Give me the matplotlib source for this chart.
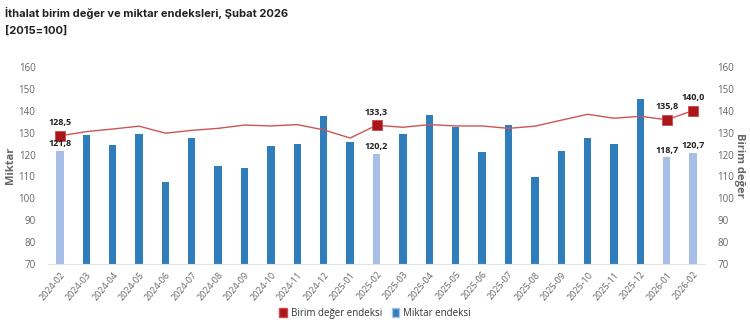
import matplotlib
matplotlib.use("Agg")
import matplotlib.pyplot as plt
from matplotlib.patches import Patch

months = [
    "2024-02", "2024-03", "2024-04", "2024-05", "2024-06", "2024-07", "2024-08",
    "2024-09", "2024-10", "2024-11", "2024-12", "2025-01", "2025-02", "2025-03",
    "2025-04", "2025-05", "2025-06", "2025-07", "2025-08", "2025-09", "2025-10",
    "2025-11", "2025-12", "2026-01", "2026-02",
]
miktar = [
    121.8, 128.8, 124.2, 129.2, 107.4, 127.4, 114.6, 113.7, 123.9, 124.8, 137.6,
    125.9, 120.2, 129.4, 138.0, 132.7, 121.0, 133.3, 109.6, 121.5, 127.5, 125.0,
    145.4, 118.7, 120.7,
]
birim = [
    128.5, 130.4, 131.6, 132.9, 129.7, 131.0, 131.9, 133.4, 133.0, 133.6, 131.2,
    127.5, 133.3, 132.4, 133.6, 133.0, 133.0, 131.9, 132.9, 135.6, 138.3, 136.5,
    137.4, 135.8, 140.0,
]
highlight = ["2024-02", "2025-02", "2026-01", "2026-02"]

dark_blue = "#2f7dbb"
light_blue = "#a7bfe6"
line_red = "#cc5555"
marker_red = "#a8171c"
grey = "#666666"

plt.rcParams["font.family"] = ["Open Sans", "DejaVu Sans"]

fig = plt.figure(figsize=(7.5, 3.33), dpi=100)
ax = fig.add_axes([0.064, 0.206, 0.876, 0.594])
ax2 = ax.twinx()

x = list(range(len(months)))
colors = [light_blue if m in highlight else dark_blue for m in months]
ax.bar(x, [v - 70 for v in miktar], bottom=70, width=0.28, color=colors, zorder=2)

ax2.plot(x, birim, color=line_red, lw=1.0, zorder=3)
hx = [i for i, m in enumerate(months) if m in highlight]
ax2.plot(hx, [birim[i] for i in hx], ls="none", marker="s", ms=6.5,
         color=marker_red, mec="#d04848", mew=0.6, zorder=4)

# both axes share the 70-160 scale, so put all labels on the top axes
for i in hx:
    ax2.annotate(f"{miktar[i]:.1f}".replace(".", ","), (i, miktar[i]),
                 xytext=(0, 2), textcoords="offset points", ha="center", va="bottom",
                 fontsize=6.5, fontweight="bold", color="#222222", zorder=5)
    ax2.annotate(f"{birim[i]:.1f}".replace(".", ","), (i, birim[i]),
                 xytext=(0, 6), textcoords="offset points", ha="center", va="bottom",
                 fontsize=6.5, fontweight="bold", color="#222222", zorder=5)

for a in (ax, ax2):
    a.set_ylim(70, 160)
    a.set_yticks(range(70, 161, 10))
    a.tick_params(axis="y", length=0, labelsize=7, labelcolor=grey, pad=9)
    for s in a.spines.values():
        s.set_visible(False)
ax.spines["bottom"].set_visible(True)
ax.spines["bottom"].set_color("#e3e3e3")
ax.set_xlim(-0.45, 24.45)
ax.set_xticks(x)
ax.set_xticklabels(months, rotation=50, ha="right", rotation_mode="anchor",
                   fontsize=6.5, color=grey)
ax.tick_params(axis="x", length=0, pad=4)
ax.set_ylabel("Miktar", fontsize=8, fontweight="bold", color=grey, labelpad=2)
ax2.set_ylabel("Birim değer", fontsize=8, fontweight="bold", color=grey,
               rotation=270, labelpad=8)

fig.text(0.007, 0.962, "İthalat birim değer ve miktar endeksleri, Şubat 2026",
         fontsize=8, fontweight="bold", color="#222222", family=["Inter", "DejaVu Sans"],
         va="center")
fig.text(0.007, 0.907, "[2015=100]", fontsize=8, fontweight="bold",
         color="#222222", family=["Inter", "DejaVu Sans"], va="center")

handles = [Patch(facecolor=marker_red, edgecolor="#d04848"),
           Patch(facecolor=dark_blue, edgecolor=light_blue)]
fig.legend(handles, ["Birim değer endeksi", "Miktar endeksi"], loc="center",
           bbox_to_anchor=(0.5, 0.06), ncol=2, frameon=False, fontsize=7,
           handlelength=0.8, handleheight=1.1, handletextpad=0.4, columnspacing=1.0,
           labelcolor="#333333")

fig.savefig("out.png", dpi=100)
